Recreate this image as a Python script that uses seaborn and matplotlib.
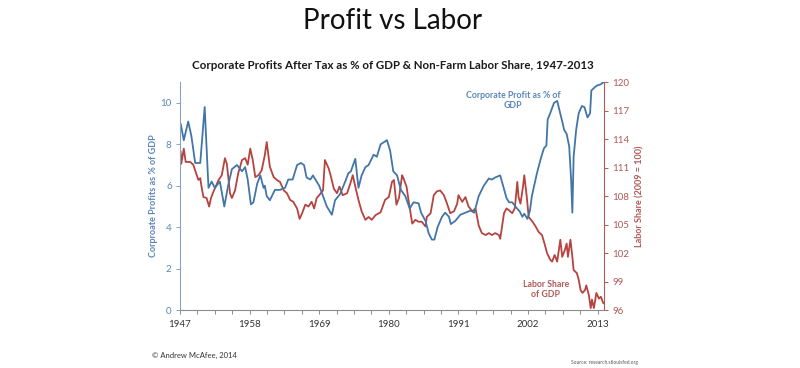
import matplotlib
matplotlib.use("Agg")
import matplotlib.pyplot as plt
import seaborn as sns
import pandas as pd
import numpy as np

# ---- data ----
profit_years = [1947.1, 1947.6, 1948.3, 1948.8, 1949.4, 1950.2, 1950.9, 1951.5, 1952.0, 1952.5,
                1953.3, 1954.0, 1954.6, 1955.2, 1956.0, 1956.8, 1957.3, 1957.7, 1958.2, 1958.6,
                1959.2, 1959.7, 1960.2, 1960.4, 1960.7, 1961.2, 1962.0, 1962.8, 1963.6, 1964.1,
                1964.8, 1965.5, 1966.1, 1966.6, 1967.0, 1967.6, 1968.0, 1968.6, 1969.0, 1970.2,
                1971.0, 1971.5, 1972.3, 1973.1, 1973.6, 1974.0, 1974.7, 1975.2, 1975.7, 1976.3,
                1976.8, 1977.6, 1978.1, 1978.7, 1979.7, 1980.2, 1980.7, 1981.3, 1981.9, 1982.6,
                1983.3, 1983.9, 1984.7, 1985.1, 1985.8, 1986.3, 1986.8, 1987.2, 1987.7, 1988.4,
                1988.9, 1989.5, 1989.8, 1990.5, 1991.3, 1992.1, 1992.9, 1993.5, 1994.2, 1995.0,
                1995.8, 1996.3, 1996.8, 1997.6, 1998.1, 1998.6, 1999.0, 1999.5, 2000.0, 2000.7,
                2001.1, 2001.4, 2001.9, 2002.3, 2002.6, 2003.4, 2004.0, 2004.5, 2004.9, 2005.1,
                2005.5, 2006.1, 2006.6, 2007.0, 2007.4, 2007.7, 2008.1, 2008.5, 2008.8, 2009.0,
                2009.2, 2009.6, 2010.0, 2010.5, 2010.9, 2011.4, 2011.8, 2012.0, 2012.7, 2013.0,
                2013.5, 2013.9]
profit_pct = [9.0, 8.2, 9.1, 8.4, 7.1, 7.1, 9.8, 5.9, 6.2, 5.9,
              6.2, 5.0, 6.0, 6.8, 7.0, 6.7, 6.9, 6.3, 5.1, 5.2,
              6.1, 6.5, 5.9, 6.0, 5.5, 5.3, 5.8, 5.8, 5.9, 6.3,
              6.3, 7.0, 7.1, 7.0, 6.4, 6.3, 6.5, 6.2, 6.0, 5.0,
              4.6, 5.3, 5.6, 6.2, 6.6, 6.7, 7.3, 5.9, 6.5, 6.9,
              7.0, 7.5, 7.4, 8.0, 8.2, 7.7, 6.7, 6.5, 5.8, 5.5,
              4.9, 5.2, 5.15, 4.7, 4.3, 3.7, 3.4, 3.4, 4.0, 4.5,
              4.7, 4.5, 4.15, 4.3, 4.6, 4.7, 4.8, 4.7, 5.5, 6.0,
              6.35, 6.3, 6.4, 6.5, 5.95, 5.4, 5.2, 5.2, 5.0, 4.75,
              4.5, 4.65, 4.4, 4.8, 5.5, 6.6, 7.3, 7.8, 7.95, 9.2,
              9.5, 10.0, 10.1, 9.6, 9.1, 8.7, 8.5, 7.9, 6.3, 4.7,
              7.4, 8.7, 9.5, 9.85, 9.8, 9.3, 9.5, 10.6, 10.8, 10.85,
              10.9, 11.0]

labor_years = [1947.1, 1947.2, 1947.6, 1947.9, 1948.6, 1949.1, 1949.4, 1949.9, 1950.2, 1950.4,
               1950.7, 1951.2, 1951.6, 1951.9, 1952.3, 1953.1, 1953.6, 1954.1, 1954.4, 1954.9,
               1955.2, 1955.7, 1956.2, 1956.8, 1957.3, 1957.7, 1958.1, 1958.5, 1958.9, 1959.4,
               1959.9, 1960.4, 1960.7, 1961.2, 1961.8, 1962.3, 1962.8, 1963.4, 1963.9, 1964.4,
               1964.9, 1965.5, 1965.9, 1966.3, 1966.8, 1967.3, 1967.8, 1968.2, 1968.6, 1969.0,
               1969.6, 1969.9, 1970.5, 1970.8, 1971.3, 1971.8, 1972.2, 1972.7, 1973.4, 1973.9,
               1974.3, 1974.7, 1975.2, 1975.7, 1976.3, 1976.8, 1977.3, 1977.9, 1978.7, 1979.4,
               1980.0, 1980.5, 1980.8, 1981.2, 1981.6, 1982.1, 1982.3, 1982.8, 1983.1, 1983.7,
               1984.2, 1984.7, 1985.2, 1985.8, 1986.0, 1986.6, 1987.1, 1987.6, 1988.1, 1988.7,
               1989.2, 1989.7, 1990.3, 1990.8, 1991.0, 1991.6, 1992.1, 1992.6, 1993.2, 1993.7,
               1994.2, 1994.7, 1995.3, 1995.8, 1996.3, 1996.8, 1997.4, 1997.6, 1998.2, 1998.6,
               1999.0, 1999.5, 1999.9, 2000.3, 2000.5, 2000.8, 2001.2, 2001.4, 2001.8, 2002.1,
               2002.7, 2003.2, 2003.7, 2004.2, 2004.6, 2005.0, 2005.5, 2005.8, 2006.2, 2006.6,
               2007.1, 2007.4, 2007.8, 2008.1, 2008.3, 2008.7, 2009.0, 2009.2, 2009.7, 2010.0,
               2010.3, 2010.6, 2011.0, 2011.2, 2011.6, 2011.9, 2012.1, 2012.4, 2012.8, 2013.2,
               2013.5, 2013.9]
labor_index = [112.7, 111.4, 113.0, 111.6, 111.6, 111.3, 110.7, 109.7, 109.9, 109.0,
               107.9, 107.8, 106.9, 107.8, 108.5, 109.7, 110.2, 112.0, 111.4, 108.3,
               107.8, 108.6, 110.4, 111.8, 112.0, 111.3, 113.0, 111.8, 110.0, 110.2,
               110.7, 112.3, 113.7, 111.1, 110.0, 109.7, 109.5, 108.6, 108.3, 107.6,
               107.4, 106.7, 105.6, 106.2, 107.1, 106.9, 107.4, 106.7, 107.8, 108.1,
               108.6, 111.8, 110.9, 110.2, 108.8, 108.3, 109.0, 108.1, 108.3, 109.3,
               110.2, 109.0, 107.6, 106.4, 105.5, 105.8, 105.5, 106.0, 106.3, 107.6,
               107.9, 109.5, 109.7, 107.1, 107.8, 110.2, 109.9, 109.0, 107.6, 105.1,
               105.5, 105.3, 105.3, 104.8, 105.8, 106.2, 108.1, 108.5, 108.6, 108.1,
               107.2, 106.2, 106.4, 107.2, 108.1, 107.4, 107.9, 106.9, 106.4, 106.7,
               104.9, 104.1, 103.9, 104.1, 103.9, 104.1, 103.9, 103.5, 106.2, 106.7,
               106.5, 106.2, 106.7, 109.5, 107.9, 107.2, 109.0, 110.2, 107.9, 105.8,
               105.3, 104.8, 104.2, 103.9, 103.0, 102.0, 101.3, 101.1, 101.8, 101.1,
               103.4, 101.6, 102.3, 103.0, 101.6, 103.4, 101.6, 100.2, 99.9, 99.2,
               98.1, 97.8, 98.1, 98.6, 97.6, 96.2, 97.1, 96.2, 97.8, 97.2,
               97.4, 96.7]

x_labels = [1947, 1958, 1969, 1980, 1991, 2002, 2013]
left_ticks = [0, 2, 4, 6, 8, 10]
right_ticks = [96, 99, 102, 105, 108, 111, 114, 117, 120]

BLUE = "#4275a8"
RED = "#b5433f"
BLUE_TXT = "#5a86b8"
RED_TXT = "#b05a57"

sns.set_theme(style="white")
plt.rcParams["font.family"] = ["Lato", "DejaVu Sans"]

fig = plt.figure(figsize=(8, 3.68), dpi=100)
ax = fig.add_axes([0.225, 0.1576, 0.53, 0.619])
ax2 = ax.twinx()

dfp = pd.DataFrame({"year": profit_years, "value": profit_pct})
dfl = pd.DataFrame({"year": labor_years, "value": labor_index})

sns.lineplot(data=dfl, x="year", y="value", ax=ax2, color=RED, lw=1.3, estimator=None, sort=False)
sns.lineplot(data=dfp, x="year", y="value", ax=ax, color=BLUE, lw=1.3, estimator=None, sort=False)
ax.set_zorder(ax2.get_zorder() + 1)
ax.patch.set_visible(False)

ax.set_xlim(1947, 2014)
ax.set_ylim(0, 11)
ax2.set_ylim(96, 120)

ax.set_xticks(x_labels)
ax.set_xticklabels([str(v) for v in x_labels], fontsize=7, color="#333333")
ax.set_xticks(np.arange(1947, 2014.01, 2.75), minor=True)
ax.set_yticks(left_ticks)
ax.set_yticklabels([str(v) for v in left_ticks], fontsize=7, color=BLUE_TXT)
ax2.set_yticks(right_ticks)
ax2.set_yticklabels([str(v) for v in right_ticks], fontsize=7, color=RED_TXT)

ax.tick_params(axis="x", which="both", direction="out", length=3, width=0.7, color="#8c8c8c", pad=4, bottom=True)
ax.tick_params(axis="y", direction="out", length=3, width=0.7, color="#8aa4c0", pad=3, left=True)
ax2.tick_params(axis="y", direction="out", length=3, width=0.7, color=RED_TXT, pad=3, right=True)

for a in (ax, ax2):
    a.spines["top"].set_visible(False)
    a.grid(False)
ax.spines["left"].set_color("#8aa4c0")
ax.spines["bottom"].set_color("#8c8c8c")
ax.spines["right"].set_visible(False)
ax2.spines["left"].set_visible(False)
ax2.spines["bottom"].set_visible(False)
ax2.spines["right"].set_color(RED_TXT)
for s in ("left", "bottom"):
    ax.spines[s].set_linewidth(0.8)
ax2.spines["right"].set_linewidth(0.8)

ax.set_xlabel("")
ax.set_ylabel("Corproate Profits as % of GDP", fontsize=6.5, color=BLUE_TXT, fontweight="bold", labelpad=2)
ax2.set_ylabel("Labor Share (2009 = 100)", fontsize=6.5, color=RED_TXT, fontweight="bold", labelpad=4)

ax.text(1999.6, 10.1, "Corporate Profit as % of\nGDP", color=BLUE_TXT, fontsize=6.3, fontweight="bold",
        ha="center", va="center", linespacing=1.15)
ax2.text(2004.8, 98.2, "Labor Share\nof GDP", color=RED_TXT, fontsize=6.3, fontweight="bold",
         ha="center", va="center", linespacing=1.15)

fig.text(0.491, 0.943, "Profit vs Labor", fontsize=20, ha="center", va="center", color="#111111")
fig.text(0.491, 0.823, "Corporate Profits After Tax as % of GDP & Non-Farm Labor Share, 1947-2013",
         fontsize=8.3, fontweight="bold", ha="center", va="center", color="#1a1a1a")
fig.text(0.19, 0.035, "\u00a9 Andrew McAfee, 2014", fontsize=5.5, ha="left", va="center", color="#333333")
fig.text(0.797, 0.016, "Source: research.stlouisfed.org", fontsize=3.5, ha="right", va="center", color="#555555")

fig.savefig("out.png", dpi=100)
